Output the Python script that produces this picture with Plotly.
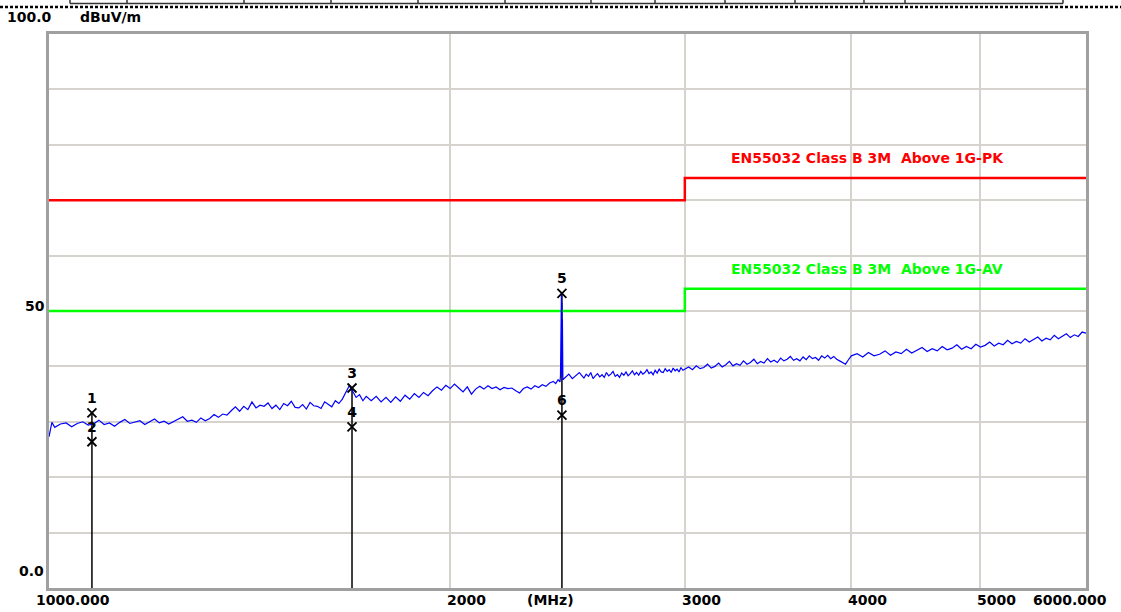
import numpy as np
import plotly.graph_objects as go

# ---------------- data ----------------
freq_a = [1000, 1005, 1010, 1020, 1030, 1040, 1050, 1060, 1070, 1080, 1090, 1100, 1110, 1120,
          1130, 1140, 1150, 1160, 1170, 1180, 1190, 1200, 1210, 1220, 1230, 1240, 1250, 1260,
          1270, 1280, 1290, 1300, 1310, 1320, 1330, 1340]
level_a = [27.3, 29.9, 29.0, 29.6, 29.8, 29.1, 29.7, 30.0, 29.4, 29.6, 30.3, 29.5, 29.8, 29.2,
           29.9, 30.4, 29.7, 29.9, 30.2, 29.5, 30.0, 30.5, 29.8, 30.1, 29.6, 30.0, 30.4, 30.9,
           30.1, 30.3, 29.9, 30.7, 30.2, 30.6, 31.3, 30.8]

freq_b = [1350, 1360, 1370, 1380, 1390, 1400, 1410, 1420, 1430, 1440, 1450, 1460, 1470, 1480,
          1490, 1500, 1510, 1520, 1530, 1540, 1550, 1560, 1570, 1580, 1590, 1600, 1610, 1620,
          1630, 1640, 1650, 1660, 1670, 1680, 1690, 1700, 1710, 1720, 1730]
level_b = [31.4, 31.2, 32.0, 32.7, 31.9, 32.8, 32.2, 33.6, 32.5, 33.0, 32.8, 33.4, 32.4, 33.0,
           32.2, 33.3, 32.9, 33.7, 32.6, 32.5, 33.1, 32.3, 33.5, 32.9, 32.8, 32.4, 33.6, 33.1,
           32.7, 33.8, 33.3, 34.1, 35.3, 36.5, 35.5, 34.4, 34.9, 33.8, 34.6]

freq_c = [1745, 1760, 1775, 1790, 1805, 1820, 1835, 1850, 1865, 1880, 1895, 1910, 1925, 1940,
          1955, 1970, 1985, 2000, 2015, 2030, 2045, 2060, 2075, 2090, 2105, 2120, 2135, 2150,
          2165, 2180, 2195, 2210, 2225, 2240, 2255, 2270, 2285, 2300, 2315, 2330, 2345, 2360,
          2375, 2390, 2400, 2410, 2418]
level_c = [33.8, 34.6, 33.6, 34.4, 33.5, 34.5, 33.7, 34.8, 34.1, 35.1, 34.4, 35.3, 34.7, 35.6,
           36.3, 35.7, 36.6, 36.0, 36.8, 36.1, 35.4, 36.3, 35.0, 35.9, 36.4, 35.9, 36.5, 36.0,
           36.3, 35.8, 36.2, 36.0, 36.1, 35.6, 35.2, 36.0, 36.3, 35.9, 36.5, 36.2, 36.7, 36.4,
           37.0, 37.3, 36.9, 37.6, 37.2]

freq_spike = [2420, 2422, 2423, 2424, 2425, 2426, 2427, 2428, 2430, 2440, 2455, 2470, 2485, 2500]
level_spike = [38.3, 46.0, 38.6, 53.4, 39.0, 51.5, 38.2, 48.5, 37.6, 38.0, 38.6, 37.8, 38.4, 38.9]

freq_d = [2510, 2520, 2530, 2540, 2550, 2560, 2570, 2580, 2590, 2600,
          2610, 2620, 2630, 2640, 2650, 2660, 2670, 2680, 2690, 2700,
          2710, 2720, 2730, 2740, 2750, 2760, 2770, 2780, 2790, 2800,
          2810, 2820, 2830, 2840, 2850, 2860, 2870, 2880, 2890, 2900,
          2910, 2920, 2930, 2940, 2950, 2960, 2970, 2980, 2990, 3000]
level_d = [38.4, 37.9, 38.6, 38.2, 38.9, 37.8, 38.3, 38.7, 38.1, 38.5,
           38.0, 38.9, 38.3, 38.6, 39.1, 38.2, 38.5, 38.0, 38.8, 38.4,
           39.0, 38.3, 38.7, 39.2, 38.5, 38.9, 38.4, 39.1, 38.6, 38.9,
           39.4, 38.7, 39.0, 38.5, 39.3, 38.8, 39.5, 39.0, 38.9, 39.6,
           39.1, 39.4, 38.9, 39.7, 39.2, 39.5, 39.0, 39.8, 39.3, 39.5]

freq_e = [3020, 3040, 3060, 3080, 3100, 3120, 3140, 3160, 3180, 3200,
          3220, 3240, 3260, 3280, 3300, 3320, 3340, 3360, 3380, 3400,
          3420, 3440, 3460, 3480, 3500, 3520, 3540, 3560, 3580, 3600,
          3620, 3640, 3660, 3680, 3700, 3720, 3740, 3760, 3780, 3800,
          3820, 3840, 3860, 3880, 3900, 3920, 3940, 3960, 3980, 4000]
level_e = [39.9, 39.4, 40.1, 39.6, 39.8, 40.4, 39.7, 40.0, 40.6, 39.9,
           40.3, 40.9, 40.1, 40.5, 40.2, 41.0, 40.4, 40.7, 41.3, 40.5,
           40.9, 40.6, 41.4, 40.8, 41.1, 40.7, 41.5, 41.0, 41.3, 41.8,
           41.1, 41.4, 41.0, 41.7, 41.2, 41.9, 41.4, 41.6, 41.1, 41.9,
           41.5, 42.0, 41.4, 41.8, 41.3, 41.0, 40.7, 40.4, 41.2, 41.9]

freq_f = [4040, 4080, 4120, 4160, 4200, 4240, 4280, 4320, 4360, 4400,
          4440, 4480, 4520, 4560, 4600, 4640, 4680, 4720, 4760, 4800,
          4840, 4880, 4920, 4960, 5000, 5040, 5080, 5120, 5160, 5200,
          5240, 5280, 5320, 5360, 5400, 5440, 5480, 5520, 5560, 5600,
          5640, 5680, 5720, 5760, 5800, 5840, 5880, 5920, 5960, 6000]
level_f = [42.3, 41.7, 42.5, 41.9, 42.2, 42.8, 42.0, 42.6, 42.3, 43.1,
           42.4, 42.9, 43.4, 42.7, 43.2, 42.8, 43.6, 43.0, 43.3, 43.9,
           43.1, 43.6, 43.2, 44.0, 43.5, 43.8, 44.4, 43.7, 44.2, 43.9,
           44.7, 44.1, 44.5, 44.2, 45.0, 44.4, 44.8, 45.3, 44.6, 45.1,
           44.8, 45.6, 45.0, 45.4, 45.9, 45.2, 45.7, 45.4, 46.2, 46.0]

trace_freq = freq_a + freq_b + freq_c + freq_spike + freq_d + freq_e + freq_f
trace_level = level_a + level_b + level_c + level_spike + level_d + level_e + level_f

limit_freq = [1000, 3000, 6000]
limit_pk = [70, 74, 74]
limit_av = [50, 54, 54]
limit_pk_name = "EN55032 Class B 3M\u00a0 Above 1G-PK"
limit_av_name = "EN55032 Class B 3M\u00a0 Above 1G-AV"

marker_freq = [1077, 1077, 1688, 1688, 2426, 2426]
marker_level = [31.6, 26.4, 36.1, 29.1, 53.2, 31.2]
marker_labels = ["1", "2", "3", "4", "5", "6"]

x_tick_vals = [2000, 3000, 4000, 5000]
y_unit = "dBuV/m"
x_unit = "(MHz)"

# ---------------- layout constants ----------------
W, H = 1121, 612
L, R, T, B = 49, 35, 34, 24
PW, PH = W - L - R, H - T - B
FONT = "DejaVu Sans"
FS = 14


def px_x(p):
    return (p - L) / PW


def px_y(p):
    return (H - B - p) / PH


fig = go.Figure()

# marker stems (from 0 up to highest marker at each frequency)
stem_x, stem_y = [], []
for f in sorted(set(marker_freq)):
    top = max(l for ff, l in zip(marker_freq, marker_level) if ff == f)
    stem_x += [f, f, None]
    stem_y += [0, top, None]
fig.add_trace(go.Scatter(x=stem_x, y=stem_y, mode="lines",
                         line=dict(color="black", width=1.5), hoverinfo="skip"))

# limit lines
fig.add_trace(go.Scatter(x=limit_freq, y=limit_pk, mode="lines", line_shape="hv",
                         line=dict(color="#ff0000", width=2.5)))
fig.add_trace(go.Scatter(x=limit_freq, y=limit_av, mode="lines", line_shape="hv",
                         line=dict(color="#00ff00", width=2.5)))

# measured trace
fig.add_trace(go.Scatter(x=trace_freq, y=trace_level, mode="lines",
                         line=dict(color="#0000ff", width=1.2)))

# markers
fig.add_trace(go.Scatter(
    x=marker_freq, y=marker_level, mode="markers+text",
    marker=dict(symbol="x-thin", size=9, line=dict(color="black", width=1.8), color="black"),
    text=["<b>%s</b>" % s for s in marker_labels], textposition="top center",
    textfont=dict(family=FONT, size=FS, color="black"), cliponaxis=False))

ann = []
# limit labels
ann.append(dict(x=np.log10(3238), y=77.6, xref="x", yref="y", xanchor="left", yanchor="middle",
                text="<b>%s</b>" % limit_pk_name, showarrow=False,
                font=dict(family=FONT, size=FS, color="#ff0000")))
ann.append(dict(x=np.log10(3238), y=57.6, xref="x", yref="y", xanchor="left", yanchor="middle",
                text="<b>%s</b>" % limit_av_name, showarrow=False,
                font=dict(family=FONT, size=FS, color="#00ff00")))

# x tick labels
xt = dict(yref="paper", y=0, yanchor="middle", yshift=-12, showarrow=False,
          font=dict(family=FONT, size=FS, color="black"))
ann.append(dict(xt, x=3, xref="x", xanchor="left", xshift=-15, text="<b>1000.000</b>"))
for v in x_tick_vals:
    ann.append(dict(xt, x=np.log10(v), xref="x", xanchor="left", xshift=-5, text="<b>%d</b>" % v))
ann.append(dict(xt, x=np.log10(6000), xref="x", xanchor="right", xshift=23, text="<b>6000.000</b>"))
ann.append(dict(xt, x=np.log10(2377), xref="x", xanchor="center", text="<b>%s</b>" % x_unit))

# y tick labels
yt = dict(xref="paper", x=0, showarrow=False, yanchor="middle",
          font=dict(family=FONT, size=FS, color="black"))
ann.append(dict(yt, y=100, yref="y", xanchor="right", xshift=5, yshift=17, text="<b>100.0</b>"))
ann.append(dict(yt, y=100, yref="y", xanchor="left", xshift=29, yshift=17, text="<b>%s</b>" % y_unit))
ann.append(dict(yt, y=50, yref="y", xanchor="right", xshift=-2, yshift=5, text="<b>50</b>"))
ann.append(dict(yt, y=0, yref="y", xanchor="right", xshift=-3, yshift=17, text="<b>0.0</b>"))

# header decorations (dotted separator + table fragment)
shapes = [dict(type="line", xref="paper", yref="paper", x0=px_x(0), x1=px_x(W),
               y0=px_y(7), y1=px_y(7), layer="above",
               line=dict(color="black", width=2.5, dash="3px,2px"))]
shapes.append(dict(type="line", xref="paper", yref="paper", x0=px_x(70), x1=px_x(1063),
                   y0=px_y(3.5), y1=px_y(3.5), layer="above",
                   line=dict(color="#333333", width=1.5)))
for p in [70, 127, 244, 331, 418, 505, 591, 655, 725, 795, 864, 905, 1063]:
    shapes.append(dict(type="line", xref="paper", yref="paper", x0=px_x(p), x1=px_x(p),
                       y0=px_y(-1), y1=px_y(3.5), layer="above",
                       line=dict(color="#333333", width=1.5)))

fig.update_layout(
    width=W, height=H, margin=dict(l=L, r=R, t=T, b=B, autoexpand=False),
    paper_bgcolor="white", plot_bgcolor="white", showlegend=False,
    annotations=ann, shapes=shapes, hovermode=False,
    font=dict(family=FONT, size=FS, color="black"),
)
fig.update_xaxes(type="log", range=[3, np.log10(6000)], tickvals=x_tick_vals,
                 showticklabels=False, ticks="", showgrid=True, gridcolor="#d6d3ce", gridwidth=1.5,
                 showline=True, mirror=True, linecolor="#a0a0a0", linewidth=2.5, zeroline=False)
fig.update_yaxes(range=[0, 100], dtick=10, showticklabels=False, ticks="", showgrid=True,
                 gridcolor="#d6d3ce", gridwidth=1.5, showline=True, mirror=True,
                 linecolor="#a0a0a0", linewidth=2.5, zeroline=False)

fig.write_html("out.html", config={"displayModeBar": False, "responsive": False},
               post_script="document.body.style.margin='0';document.body.style.overflow='hidden';")
